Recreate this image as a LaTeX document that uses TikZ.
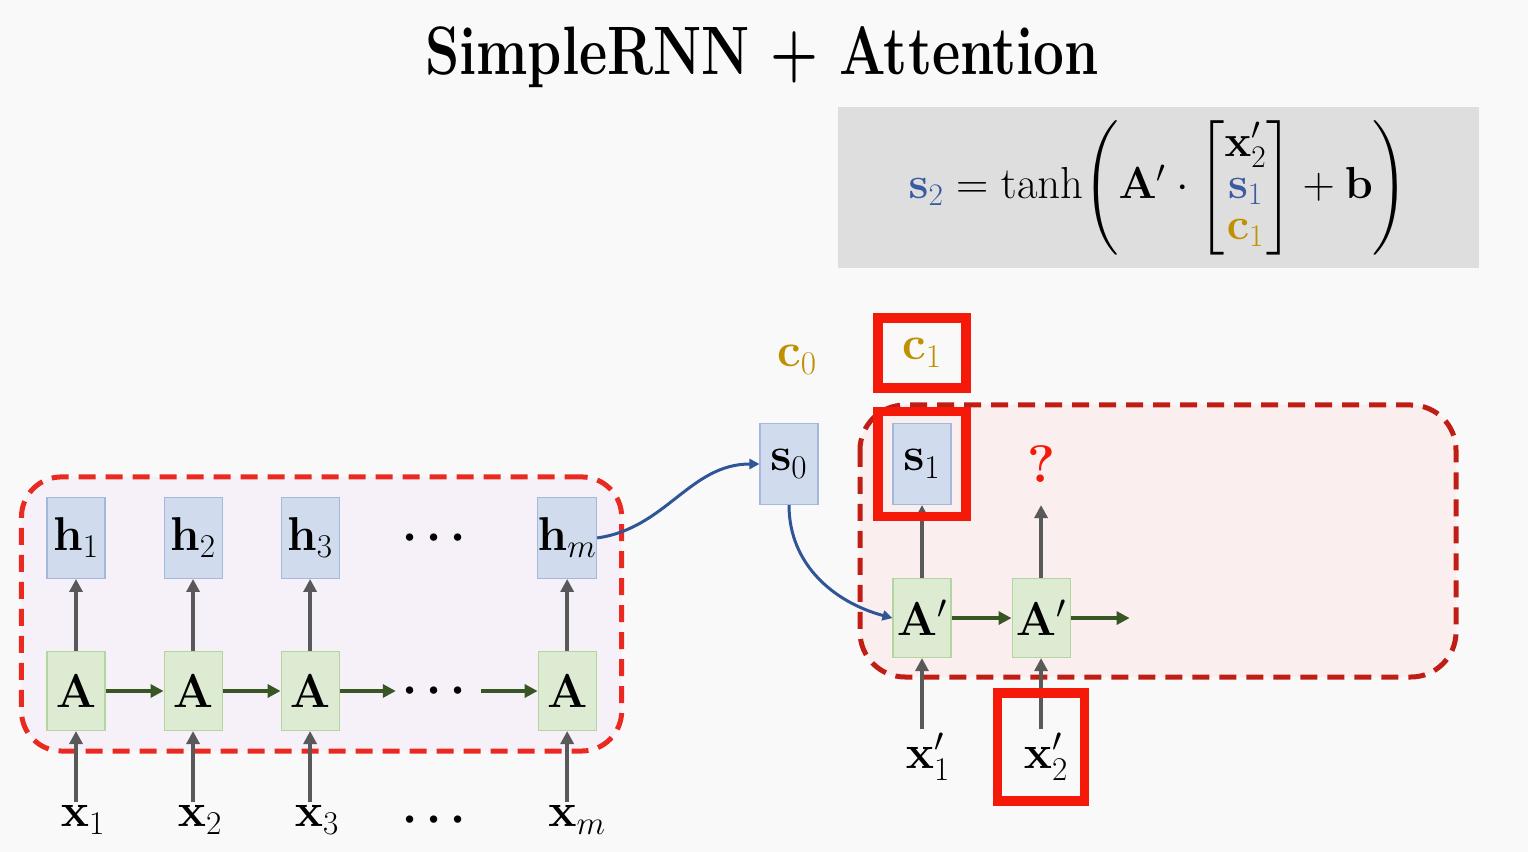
\RequirePackage{fix-cm}
\documentclass[tikz,border=0pt]{standalone}
\usepackage{amsmath,amssymb}
\usepackage{xcolor}
\usepackage{tikz}
\usetikzlibrary{arrows.meta, positioning, fit, backgrounds}

\definecolor{bgcol}{HTML}{F9F9F9}
\definecolor{eqgray}{HTML}{DEDEDE}
\definecolor{hfill}{HTML}{D0DCEE}
\definecolor{hdraw}{HTML}{A3B8DC}
\definecolor{afill}{HTML}{DDEBD2}
\definecolor{adraw}{HTML}{B5D5A0}
\definecolor{encfill}{HTML}{F6F1F8}
\definecolor{encred}{HTML}{EA2A20}
\definecolor{decfill}{HTML}{FAEFEE}
\definecolor{decred}{HTML}{C01E14}
\definecolor{hlred}{HTML}{F5190A}
\definecolor{gold}{HTML}{BF9000}
\definecolor{navy}{HTML}{2F5597}
\definecolor{eqblue}{HTML}{3A5BA0}
\definecolor{arrgray}{HTML}{595959}
\definecolor{arrgreen}{HTML}{375623}

\newcommand{\bvec}[1]{\mathbf{#1}}
\newcommand{\bdots}{\boldsymbol{\cdots}}

\begin{document}
\begin{tikzpicture}[
  font=\fontsize{27}{30}\selectfont,
  >={Triangle[length=0.26cm,width=0.26cm]},
  hbox/.style={rectangle, draw=hdraw, fill=hfill, line width=0.6pt,
               minimum width=1.16cm, minimum height=1.62cm, inner sep=0pt},
  abox/.style={rectangle, draw=adraw, fill=afill, line width=0.6pt,
               minimum width=1.16cm, minimum height=1.58cm, inner sep=0pt},
  xlab/.style={inner sep=2pt},
  dots/.style={minimum width=1.7cm, inner sep=0pt},
  goldlab/.style={text=gold},
  qmark/.style={text=hlred, font=\fontsize{30}{32}\selectfont\bfseries},
  uparrow/.style={->, draw=arrgray, line width=0.08cm},
  rarrow/.style={->, draw=arrgreen, line width=0.08cm},
  barrow/.style={-{Triangle[length=0.2cm,width=0.2cm]}, draw=navy, line width=0.06cm},
  hlbox/.style={rectangle, draw=hlred, line width=0.19cm},
  encbox/.style={rectangle, rounded corners=0.8cm, draw=encred, fill=encfill,
                 line width=0.1cm, dash pattern=on 0.34cm off 0.2cm},
  decbox/.style={rounded corners=0.9cm, draw=decred, fill=decfill,
                 line width=0.1cm, dash pattern=on 0.34cm off 0.2cm}
]
\useasboundingbox (0,0) rectangle (30.56,-17.04);

% title and equation
\node[font=\fontsize{39}{42}\selectfont\bfseries, inner sep=1pt] (title) at (15.24,-1.15)
  {\scalebox{0.8}[1]{SimpleRNN + Attention}};
\node[rectangle, fill=eqgray, minimum width=12.82cm, minimum height=3.22cm,
      font=\fontsize{25.5}{28}\selectfont] (eq) at (23.17,-3.75)
  {\renewcommand{\arraystretch}{0.85}%
   $\textcolor{eqblue}{\bvec{s}_2} = \tanh\!\left(\bvec{A}'\cdot
    \begin{bmatrix}\bvec{x}'_2\\ \textcolor{eqblue}{\bvec{s}_1}\\ \textcolor{gold}{\bvec{c}_1}\end{bmatrix}
    + \bvec{b}\right)$};

% encoder
\node[abox] (A1) at (1.52,-13.82) {$\bvec{A}$};
\node[abox, right=1.16cm of A1] (A2) {$\bvec{A}$};
\node[abox, right=1.16cm of A2] (A3) {$\bvec{A}$};
\node[abox, right=3.96cm of A3] (Am) {$\bvec{A}$};
\path (A3) -- node[dots] (Adots) {$\bdots$} (Am);

\node[hbox, above=1.44cm of A1] (h1) {$\bvec{h}_1$};
\node[hbox, above=1.44cm of A2] (h2) {$\bvec{h}_2$};
\node[hbox, above=1.44cm of A3] (h3) {$\bvec{h}_3$};
\node[hbox, above=1.44cm of Am] (hm) {$\bvec{h}_m$};
\path (h3) -- node (hdots) {$\bdots$} (hm);

\node[xlab, below=1.42cm of A1, xshift=0.14cm] (x1) {$\bvec{x}_1$};
\node[xlab, below=1.42cm of A2, xshift=0.14cm] (x2) {$\bvec{x}_2$};
\node[xlab, below=1.42cm of A3, xshift=0.14cm] (x3) {$\bvec{x}_3$};
\node[xlab, below=1.42cm of Am, xshift=0.2cm] (xm) {$\bvec{x}_m$};
\node (xdots) at (Adots |- x3) {$\bdots$};

\foreach \i in {1,2,3,m} {
  \draw[uparrow] (A\i.south |- x\i.north) -- (A\i.south);
  \draw[uparrow] (A\i) -- (h\i);
}
\draw[rarrow] (A1) -- (A2);
\draw[rarrow] (A2) -- (A3);
\draw[rarrow] (A3) -- (Adots);
\draw[rarrow] (Adots) -- (Am);

% decoder
\node[hbox] (s0) at (15.78,-9.28) {$\bvec{s}_0$};
\node[goldlab] (c0) at (15.94,-7.2) {$\bvec{c}_0$};
\node[hbox] (s1) at (18.44,-9.28) {$\bvec{s}_1$};
\node[abox, below=1.46cm of s1] (A1p) {$\bvec{A}'$};
\node[abox, right=1.2cm of A1p] (A2p) {$\bvec{A}'$};
\coordinate[right=1.18cm of A2p] (aout);
\node[xlab, below=1.42cm of A1p, xshift=0.12cm] (x1p) {$\bvec{x}'_1$};
\node[xlab, below=1.42cm of A2p, xshift=0.1cm] (x2p) {$\bvec{x}'_2$};
\node[qmark] (q) at (A2p |- s1) {?};

\draw[barrow] (hm.east) to[out=8, in=180] (s0.west);
\draw[barrow] (s0.south) to[out=-90, in=165] (A1p.west);
\draw[uparrow] (A1p) -- (s1);
\draw[uparrow] (A2p) -- (A2p.north |- s1.south);
\draw[uparrow] (A1p.south |- x1p.north) -- (A1p.south);
\draw[uparrow] (A2p.south |- x2p.north) -- (A2p.south);
\draw[rarrow] (A1p) -- (A2p);
\draw[rarrow] (A2p) -- (aout);

% highlights
\node[goldlab, hlbox, minimum width=1.76cm, minimum height=1.4cm] (c1) at (18.44,-7.06) {$\bvec{c}_1$};
\node[hlbox, fit=(s1), inner xsep=0.29cm, inner ysep=0.23cm] (s1hl) {};
\node[hlbox, minimum width=1.74cm, minimum height=2.16cm] (x2phl) at (A2p.south |- 0,-14.94) {};

\begin{scope}[on background layer]
  \fill[bgcol] (0,0) rectangle (30.56,-17.04);
  \node[encbox, fit=(h1)(Am), inner xsep=0.5cm, inner ysep=0.4cm] (enc) {};
  \draw[decbox] (17.2,-8.1) rectangle (29.12,-13.54);
\end{scope}
\end{tikzpicture}
\end{document}
